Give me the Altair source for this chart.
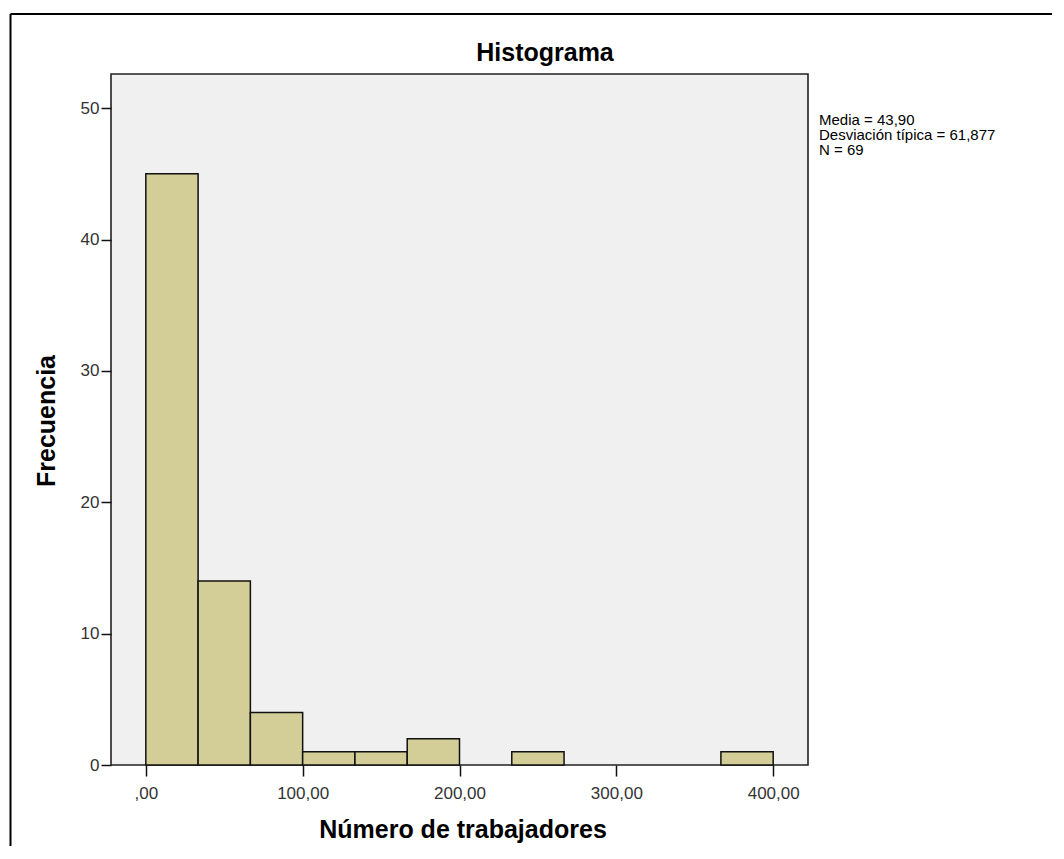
import altair as alt
import pandas as pd

# Histogram bins (Número de trabajadores), width 33.33
bin_start = [0, 33.333, 66.667, 100, 133.333, 166.667, 200, 233.333, 266.667, 300, 333.333, 366.667]
bin_end = [33.333, 66.667, 100, 133.333, 166.667, 200, 233.333, 266.667, 300, 333.333, 366.667, 400]
counts = [45, 14, 4, 1, 1, 2, 0, 1, 0, 0, 0, 1]

x_ticks = [0, 100, 200, 300, 400]
y_ticks = [0, 10, 20, 30, 40, 50]
stats_lines = "Media = 43,90\nDesviación típica = 61,877\nN = 69"

df = pd.DataFrame({"start": bin_start, "end": bin_end, "count": counts})

FONT = "Liberation Sans"
W, H = 697, 691

xscale = alt.Scale(domain=[-22.2, 422.2], nice=False, zero=False)
yscale = alt.Scale(domain=[0, 52.6], nice=False)

bars = alt.Chart(df).transform_filter("datum.count > 0").mark_rect(
    fill="#D3CE97", stroke="#111111", strokeWidth=1.5
).encode(
    x=alt.X("start:Q", scale=xscale,
            axis=alt.Axis(values=x_ticks, title=None, domain=False, grid=False,
                          tickColor="#111", tickWidth=1.5, tickSize=11,
                          labelFont=FONT, labelFontSize=17, labelColor="#333",
                          labelPadding=9,
                          labelExpr="datum.value == 0 ? ',00' : datum.value + ',00'")),
    x2="end:Q",
    y=alt.Y("count:Q", scale=yscale,
            axis=alt.Axis(values=y_ticks, title=None, domain=False, grid=False,
                          tickColor="#111", tickWidth=1.5, tickSize=10,
                          labelFont=FONT, labelFontSize=17, labelColor="#333",
                          labelPadding=2)),
    y2=alt.datum(0),
)

base = alt.Chart(pd.DataFrame({"a": [0]}))

title = base.mark_text(text="Histograma", font=FONT, fontSize=25, fontWeight="bold",
                       align="center", baseline="middle", color="#000").encode(
    x=alt.value(434), y=alt.value(-21))

ytitle = base.mark_text(text="Frecuencia", font=FONT, fontSize=25, fontWeight="bold",
                        align="center", baseline="middle", angle=270, color="#000").encode(
    x=alt.value(-64), y=alt.value(347))

xtitle = base.mark_text(text="Número de trabajadores", font=FONT, fontSize=25, fontWeight="bold",
                        align="center", baseline="middle", color="#000").encode(
    x=alt.value(352), y=alt.value(756))

stats = base.mark_text(text=stats_lines, lineBreak="\n", lineHeight=15, font=FONT, fontSize=15,
                       align="left", baseline="middle", color="#000").encode(
    x=alt.value(708), y=alt.value(46))

frame_top = base.mark_rule(color="#000", strokeWidth=2).encode(
    x=alt.value(-100.5), x2=alt.value(960), y=alt.value(-60))
frame_left = base.mark_rule(color="#000", strokeWidth=2).encode(
    x=alt.value(-100.5), y=alt.value(-60), y2=alt.value(800))

chart = alt.layer(bars, title, ytitle, xtitle, stats, frame_top, frame_left).properties(
    width=W, height=H,
    autosize=alt.AutoSizeParams(type="none"),
    padding={"left": 103, "top": 66, "right": 244, "bottom": 81},
    background="white",
).configure_view(
    fill="#F0F0F0", stroke="#222222", strokeWidth=1.6
)

chart.save("out.html", embed_options={"renderer": "svg", "actions": False})
